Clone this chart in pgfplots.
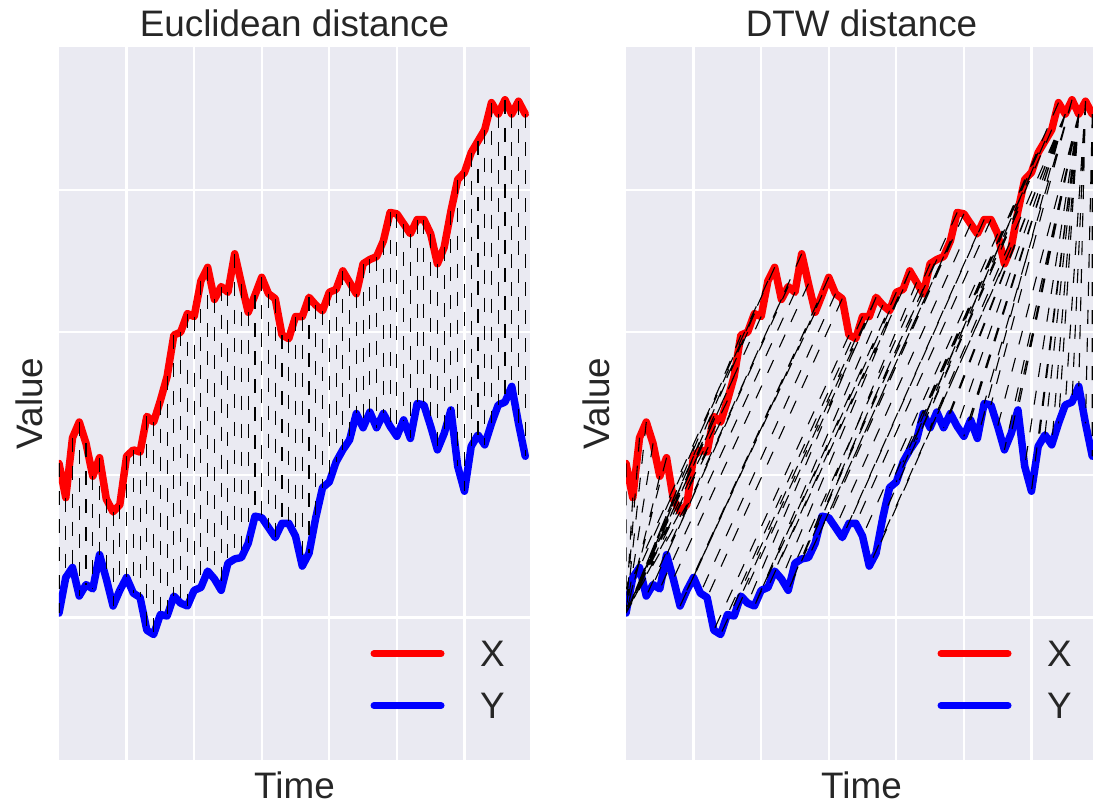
\documentclass[border=0pt]{standalone}
\usepackage{pgfplots}
\usepackage{pgfplotstable}
\pgfplotsset{compat=1.18}
\usepackage{fontspec}
\setmainfont{Liberation Sans}
\definecolor{sbbg}{HTML}{EAEAF2}
\definecolor{sbtext}{HTML}{262626}
\newcommand\sbfont{\fontsize{37}{44}\selectfont}

\pgfplotstableread{
t x y
0 1.08 0.03
1 0.84 0.28
2 1.26 0.35
3 1.37 0.15
4 1.22 0.23
5 0.99 0.20
6 1.12 0.44
7 0.83 0.27
8 0.74 0.08
9 0.79 0.19
10 1.13 0.28
11 1.175 0.17
12 1.16 0.14
13 1.41 -0.09
14 1.37 -0.12
15 1.52 0.02
16 1.69 0.01
17 1.98 0.15
18 2.00 0.10
19 2.13 0.08
20 2.11 0.19
21 2.36 0.21
22 2.455 0.325
23 2.23 0.27
24 2.32 0.19
25 2.28 0.38
26 2.55 0.41
27 2.34 0.42
28 2.14 0.52
29 2.26 0.71
30 2.385 0.70
31 2.27 0.63
32 2.235 0.56
33 1.98 0.66
34 1.955 0.66
35 2.11 0.57
36 2.11 0.36
37 2.245 0.45
38 2.19 0.70
39 2.15 0.91
40 2.28 0.95
41 2.30 1.09
42 2.43 1.175
43 2.35 1.245
44 2.27 1.43
45 2.48 1.33
46 2.51 1.44
47 2.53 1.33
48 2.64 1.43
49 2.84 1.34
50 2.83 1.27
51 2.76 1.385
52 2.69 1.255
53 2.79 1.50
54 2.79 1.49
55 2.69 1.34
56 2.48 1.175
57 2.595 1.29
58 2.85 1.455
59 3.07 1.06
60 3.12 0.885
61 3.26 1.20
62 3.34 1.28
63 3.42 1.21
64 3.61 1.36
65 3.53 1.49
66 3.63 1.51
67 3.53 1.62
68 3.62 1.36
69 3.53 1.13
}\datatable

% level difference between the two series, removed before the DTW alignment
\def\dtwshift{2.15}

\makeatletter
\newcount\dtw@i \newcount\dtw@j \newcount\dtw@im \newcount\dtw@jm
\newcount\dtw@k \newcount\dtw@s \newcount\dtw@last
\newdimen\dtw@c \newdimen\dtw@m \newdimen\dtw@t
\pgfplotstablegetrowsof{\datatable}
\dtw@last=\pgfplotsretval\relax
\advance\dtw@last by -1\relax
% store the two series
\def\dtw@store{%
  \ifnum\dtw@i>\dtw@last\else
    \pgfplotstablegetelem{\the\dtw@i}{x}\of\datatable
    \expandafter\xdef\csname dtwX@\the\dtw@i\endcsname{\pgfplotsretval}%
    \pgfplotstablegetelem{\the\dtw@i}{y}\of\datatable
    \expandafter\xdef\csname dtwY@\the\dtw@i\endcsname{\pgfplotsretval}%
    \expandafter\gdef\csname dtwD@-1@\the\dtw@i\endcsname{16000pt}%
    \expandafter\gdef\csname dtwD@\the\dtw@i @-1\endcsname{16000pt}%
    \advance\dtw@i by 1\relax
    \expandafter\dtw@store
  \fi}
\dtw@i=0\relax
\dtw@store
\expandafter\gdef\csname dtwD@-1@-1\endcsname{0pt}
% accumulated cost matrix
\def\dtw@cell{%
  \dtw@im=\dtw@i \advance\dtw@im by -1\relax
  \dtw@jm=\dtw@j \advance\dtw@jm by -1\relax
  \dtw@c=\csname dtwX@\the\dtw@i\endcsname pt\relax
  \advance\dtw@c by -\csname dtwY@\the\dtw@j\endcsname pt\relax
  \advance\dtw@c by -\dtwshift pt\relax
  \ifdim\dtw@c<\z@ \dtw@c=-\dtw@c \fi
  \dtw@m=\csname dtwD@\the\dtw@im @\the\dtw@jm\endcsname\relax
  \dtw@t=\csname dtwD@\the\dtw@im @\the\dtw@j\endcsname\relax
  \ifdim\dtw@t<\dtw@m \dtw@m=\dtw@t \fi
  \dtw@t=\csname dtwD@\the\dtw@i @\the\dtw@jm\endcsname\relax
  \ifdim\dtw@t<\dtw@m \dtw@m=\dtw@t \fi
  \advance\dtw@c by \dtw@m
  \expandafter\xdef\csname dtwD@\the\dtw@i @\the\dtw@j\endcsname{\the\dtw@c}%
}
\def\dtw@cols{%
  \ifnum\dtw@j>\dtw@last\else
    \dtw@cell
    \advance\dtw@j by 1\relax
    \expandafter\dtw@cols
  \fi}
\def\dtw@rows{%
  \ifnum\dtw@i>\dtw@last\else
    \dtw@j=0\relax
    \dtw@cols
    \advance\dtw@i by 1\relax
    \expandafter\dtw@rows
  \fi}
\dtw@i=0\relax
\dtw@rows
% backtracking of the warping path
\def\dtw@step{%
  \dtw@im=\dtw@i \advance\dtw@im by -1\relax
  \dtw@jm=\dtw@j \advance\dtw@jm by -1\relax
  \dtw@m=\csname dtwD@\the\dtw@im @\the\dtw@jm\endcsname\relax
  \dtw@k=0\relax
  \dtw@t=\csname dtwD@\the\dtw@im @\the\dtw@j\endcsname\relax
  \ifdim\dtw@t<\dtw@m \dtw@m=\dtw@t \dtw@k=1\relax \fi
  \dtw@t=\csname dtwD@\the\dtw@i @\the\dtw@jm\endcsname\relax
  \ifdim\dtw@t<\dtw@m \dtw@m=\dtw@t \dtw@k=2\relax \fi
  \ifcase\dtw@k \dtw@i=\dtw@im \dtw@j=\dtw@jm
  \or \dtw@i=\dtw@im
  \or \dtw@j=\dtw@jm
  \fi}
\gdef\DTWpath{}
\def\dtw@back{%
  \xdef\DTWpath{\DTWpath (\the\dtw@i,\csname dtwX@\the\dtw@i\endcsname) (\the\dtw@j,\csname dtwY@\the\dtw@j\endcsname) (nan,nan) }%
  \dtw@s=\dtw@i \advance\dtw@s by \dtw@j
  \ifnum\dtw@s>0\relax
    \dtw@step
    \expandafter\dtw@back
  \fi}
\dtw@i=\dtw@last \dtw@j=\dtw@last
\dtw@back
% Euclidean pairing
\gdef\EUCpath{}
\def\dtw@euc{%
  \ifnum\dtw@i>\dtw@last\else
    \xdef\EUCpath{\EUCpath (\the\dtw@i,\csname dtwX@\the\dtw@i\endcsname) (\the\dtw@i,\csname dtwY@\the\dtw@i\endcsname) (nan,nan) }%
    \advance\dtw@i by 1\relax
    \expandafter\dtw@euc
  \fi}
\dtw@i=0\relax
\dtw@euc
\xdef\EUCplot{\noexpand\addplot[pairline] coordinates {\EUCpath};}
\xdef\DTWplot{\noexpand\addplot[pairline] coordinates {\DTWpath};}
\makeatother

\pgfplotsset{
  pairline/.style={black, line width=1.1bp, dash pattern=on 14bp off 14bp, forget plot, unbounded coords=jump},
  xser/.style={color=red, line width=7.5bp, line join=round, line cap=round},
  yser/.style={color=blue, line width=7.5bp, line join=round, line cap=round},
  sbaxis/.style={
    scale only axis, width=471bp, height=713bp,
    xmin=0, xmax=69.7, ymin=-1, ymax=4,
    axis background/.style={fill=sbbg},
    axis line style={draw=none},
    xtick={10,20,30,40,50,60}, ytick={0,1,2,3},
    xticklabels={}, yticklabels={},
    major tick length=0pt,
    grid=major, major grid style={white, line width=2.2bp},
    unbounded coords=jump,
    every axis title/.style={at={(axis description cs:0.5,1)}, anchor=base, yshift=11bp, font=\sbfont, text=sbtext},
    every axis x label/.style={at={(axis description cs:0.5,0)}, anchor=base, yshift=-38.5bp, font=\sbfont, text=sbtext},
    every axis y label/.style={at={(axis description cs:-0.034,0.5)}, rotate=90, anchor=base, font=\sbfont, text=sbtext},
    xlabel={Time}, ylabel={Value},
    legend image code/.code={\draw[##1, line width=7bp, line cap=round] (0bp,0bp) -- (67bp,0bp);},
    legend style={at={(axis description cs:0.6614,0.1669)}, anchor=north west, draw=none, fill=none,
      inner sep=0pt, outer sep=0pt, row sep=26.5bp, column sep=35.5bp, font=\sbfont, text=sbtext,
      nodes={inner sep=0pt, text depth=0pt}, cells={anchor=west}},
  }
}

\begin{document}
\begin{tikzpicture}
\useasboundingbox (0,0) rectangle (1093bp,-805bp);
\begin{axis}[sbaxis, at={(59bp,-760bp)}, anchor=south west, title={Euclidean distance}]
\addplot[xser] table[x=t, y=x] {\datatable};
\addplot[yser] table[x=t, y=y] {\datatable};
\EUCplot
\legend{X, Y}
\end{axis}
\begin{axis}[sbaxis, at={(626bp,-760bp)}, anchor=south west, title={DTW distance}]
\addplot[xser] table[x=t, y=x] {\datatable};
\addplot[yser] table[x=t, y=y] {\datatable};
\DTWplot
\legend{X, Y}
\end{axis}
\end{tikzpicture}
\end{document}
